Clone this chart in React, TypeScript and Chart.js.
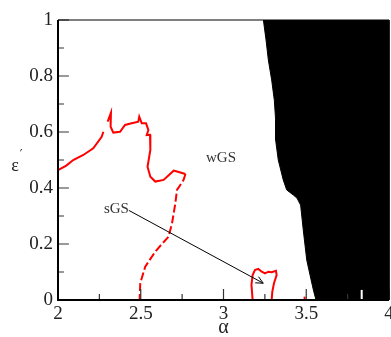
import React, { useEffect, useRef } from 'react';
import { Chart, registerables } from 'chart.js';

Chart.register(...registerables);

// Axis ranges, tick positions and labels
const X_RANGE = [2, 4];
const Y_RANGE = [0, 1];
const xTickValues = [2, 2.25, 2.5, 2.75, 3, 3.25, 3.5, 3.75, 4];
const yTickValues = [0, 0.1, 0.2, 0.3, 0.4, 0.5, 0.6, 0.7, 0.8, 0.9, 1];
const X_TITLE = 'α';
const Y_TITLE = 'ε';
const Y_TITLE_SUP = '′';

// Boundary of the black (filled) region, read top to bottom
const boundaryX = [3.241, 3.257, 3.271, 3.291, 3.307, 3.315, 3.315, 3.331, 3.361, 3.382, 3.422, 3.444, 3.466, 3.482, 3.503, 3.523, 3.543, 3.559, 4.0];
const boundaryY = [1.0, 0.929, 0.857, 0.786, 0.714, 0.643, 0.571, 0.5, 0.429, 0.393, 0.375, 0.364, 0.339, 0.25, 0.143, 0.089, 0.036, 0, 0];

// Main red curve (null = gap)
const curveX = [2.0, 2.05, 2.092, 2.153, 2.213, 2.264, 2.274, null, 2.300, 2.320, 2.318, 2.334, 2.375, 2.405, 2.445, 2.485, 2.491, 2.506, 2.532, 2.546, 2.536, 2.556, 2.558, 2.541, 2.558, 2.588, 2.638, 2.699, 2.719, 2.770, 2.759, 2.719, 2.709, 2.689, 2.668, 2.628, 2.588, 2.527, 2.497, 2.493];
const curveY = [0.464, 0.48, 0.5, 0.518, 0.542, 0.583, 0.601, null, 0.637, 0.669, 0.619, 0.598, 0.601, 0.625, 0.631, 0.637, 0.655, 0.631, 0.631, 0.607, 0.589, 0.590, 0.536, 0.476, 0.44, 0.423, 0.429, 0.462, 0.459, 0.45, 0.429, 0.393, 0.345, 0.274, 0.226, 0.2, 0.173, 0.119, 0.06, 0];
const DASH_FROM = 29;

// Small red loop near alpha = 3.25
const loopX = [3.176, 3.169, 3.176, 3.190, 3.210, 3.231, 3.251, 3.271, 3.291, 3.317, 3.321, 3.305, 3.295, 3.291];
const loopY = [0, 0.054, 0.089, 0.107, 0.111, 0.101, 0.095, 0.101, 0.099, 0.104, 0.089, 0.060, 0.030, 0];

// Tiny features
const redDotX = [3.49, 3.49];
const redDotY = [0, 0.012];
const gapX = [3.835, 3.835];
const gapY = [0, 0.036];

// Annotations
const labelNames = ['wGS', 'sGS'];
const labelX = [2.985, 2.353];
const labelY = [0.507, 0.325];
const arrowFrom = [2.428, 0.32];
const arrowTo = [3.240, 0.060];

// Inward tick lengths, in axis units
const X_TICK_LEN = [0.039, 0.021]; // along y for the x-axis ticks (major, minor)
const Y_TICK_LEN = [0.066, 0.036]; // along x for the y-axis ticks (major, minor)

const pts = (xs: (number | null)[], ys: (number | null)[]) =>
  xs.map((x, i) => ({ x: x as any, y: ys[i] as any }));

const isMajor = (v: number, per: number) => Math.abs(v / per - Math.round(v / per)) < 1e-6;

const xTickSegs = xTickValues.flatMap((v) => [
  { x: v, y: Y_RANGE[0] },
  { x: v, y: Y_RANGE[0] + (isMajor(v, 0.5) ? X_TICK_LEN[0] : X_TICK_LEN[1]) },
  { x: v, y: null as any },
]);
const yTickSegs = yTickValues.flatMap((v) => [
  { x: X_RANGE[0], y: v },
  { x: X_RANGE[0] + (isMajor(v, 0.2) ? Y_TICK_LEN[0] : Y_TICK_LEN[1]), y: v },
  { x: null as any, y: v },
]);
const frameLeftBottom = [
  { x: X_RANGE[0], y: Y_RANGE[1] },
  { x: X_RANGE[0], y: Y_RANGE[0] },
  { x: X_RANGE[1], y: Y_RANGE[0] },
];
const frameTopRight = [
  { x: X_RANGE[0], y: Y_RANGE[1] },
  { x: X_RANGE[1], y: Y_RANGE[1] },
  { x: X_RANGE[1], y: Y_RANGE[0] },
];

const decor = {
  id: 'decor',
  afterDraw(chart: any) {
    const { ctx, chartArea: a, scales } = chart;
    const x = scales.x, y = scales.y;
    ctx.save();
    ctx.setLineDash([]);
    // labels
    ctx.fillStyle = '#333';
    ctx.font = '15px "Liberation Serif", serif';
    ctx.textAlign = 'center';
    ctx.textBaseline = 'middle';
    labelNames.forEach((n, i) => {
      ctx.fillText(n, x.getPixelForValue(labelX[i]), y.getPixelForValue(labelY[i]));
    });

    // arrow
    const x0 = x.getPixelForValue(arrowFrom[0]), y0 = y.getPixelForValue(arrowFrom[1]);
    const x1 = x.getPixelForValue(arrowTo[0]), y1 = y.getPixelForValue(arrowTo[1]);
    ctx.strokeStyle = '#000';
    ctx.lineWidth = 1;
    ctx.beginPath();
    ctx.moveTo(x0, y0);
    ctx.lineTo(x1, y1);
    const ang = Math.atan2(y1 - y0, x1 - x0);
    const hl = 8, ha = 0.45;
    ctx.moveTo(x1 - hl * Math.cos(ang - ha), y1 - hl * Math.sin(ang - ha));
    ctx.lineTo(x1, y1);
    ctx.lineTo(x1 - hl * Math.cos(ang + ha), y1 - hl * Math.sin(ang + ha));
    ctx.stroke();

    // axis titles
    ctx.fillStyle = '#222';
    ctx.font = '20px "Liberation Serif", serif';
    ctx.fillText(X_TITLE, (a.left + a.right) / 2, a.bottom + 28);
    ctx.font = '18px "Liberation Serif", serif';
    ctx.fillText(Y_TITLE, 15, (a.top + a.bottom) / 2 + 6);
    ctx.font = '12px "DejaVu Sans", sans-serif';
    ctx.fillText(Y_TITLE_SUP, 21, (a.top + a.bottom) / 2 - 5);
    ctx.restore();
  },
};

export default function App() {
  const ref = useRef<HTMLCanvasElement>(null);
  useEffect(() => {
    if (!ref.current) return;
    const chart = new Chart(ref.current, {
      type: 'scatter',
      data: {
        datasets: [
          {
            data: pts(boundaryX, boundaryY),
            order: 10,
            showLine: true,
            fill: 'end',
            backgroundColor: '#000',
            borderColor: '#000',
            borderWidth: 1,
            pointRadius: 0,
          } as any,
          {
            data: pts(gapX, gapY),
            order: 9,
            showLine: true,
            borderColor: '#fff',
            borderWidth: 2,
            pointRadius: 0,
          },
          {
            data: pts(curveX, curveY),
            order: 5,
            showLine: true,
            spanGaps: false,
            borderColor: '#ff0000',
            borderWidth: 2,
            pointRadius: 0,
            segment: {
              borderDash: (c: any) => (c.p0DataIndex >= DASH_FROM ? [8, 3] : []),
            },
          } as any,
          {
            data: pts(loopX, loopY),
            order: 5,
            showLine: true,
            borderColor: '#ff0000',
            borderWidth: 2,
            pointRadius: 0,
          },
          {
            data: pts(redDotX, redDotY),
            order: 5,
            showLine: true,
            borderColor: '#ff0000',
            borderWidth: 2,
            pointRadius: 0,
          },
          {
            data: xTickSegs,
            order: 2,
            showLine: true,
            spanGaps: false,
            borderColor: '#333',
            borderWidth: 1.2,
            pointRadius: 0,
            clip: false,
          } as any,
          {
            data: yTickSegs,
            order: 2,
            showLine: true,
            spanGaps: false,
            borderColor: '#333',
            borderWidth: 1.2,
            pointRadius: 0,
            clip: false,
          } as any,
          {
            data: frameTopRight,
            order: 1,
            showLine: true,
            borderColor: '#000',
            borderWidth: 1,
            pointRadius: 0,
            clip: false,
          } as any,
          {
            data: frameLeftBottom,
            order: 0,
            showLine: true,
            borderColor: '#000',
            borderWidth: 2,
            pointRadius: 0,
            clip: false,
          } as any,
        ],
      },
      options: {
        animation: false,
        responsive: false,
        devicePixelRatio: 1,
        layout: { padding: { left: 0, top: 20, right: 2, bottom: 0 } },
        plugins: { legend: { display: false }, tooltip: { enabled: false } },
        scales: {
          x: {
            type: 'linear',
            min: X_RANGE[0],
            max: X_RANGE[1],
            grid: { display: false, drawTicks: false },
            border: { display: false },
            afterBuildTicks: (s: any) => {
              s.ticks = xTickValues.map((v) => ({ value: v }));
            },
            ticks: {
              autoSkip: false,
              maxRotation: 0,
              padding: 3,
              color: '#222',
              font: { family: '"Liberation Serif", serif', size: 19 },
              callback: (v: any) => (isMajor(Number(v), 0.5) ? String(parseFloat(Number(v).toFixed(2))) : ''),
            },
            afterFit: (s: any) => {
              s.height = 37;
              s.paddingLeft = 0;
              s.paddingRight = 0;
            },
          },
          y: {
            type: 'linear',
            min: Y_RANGE[0],
            max: Y_RANGE[1],
            grid: { display: false, drawTicks: false },
            border: { display: false },
            afterBuildTicks: (s: any) => {
              s.ticks = yTickValues.map((v) => ({ value: v }));
            },
            ticks: {
              autoSkip: false,
              padding: 5,
              color: '#222',
              font: { family: '"Liberation Serif", serif', size: 19 },
              callback: (v: any) => {
                const n = Number(v);
                if (!isMajor(n, 0.2)) return '';
                const r = parseFloat(n.toFixed(2));
                return r === 0 || r === 1 ? String(r) : r.toFixed(1);
              },
            },
            afterFit: (s: any) => {
              s.width = 58;
              s.paddingTop = 0;
              s.paddingBottom = 0;
            },
          },
        },
      },
      plugins: [decor],
    });
    return () => chart.destroy();
  }, []);
  return (
    <div style={{ position: 'fixed', left: 0, top: 0, width: 391, height: 337, background: '#fff' }}>
      <canvas ref={ref} width={391} height={337} />
    </div>
  );
}
